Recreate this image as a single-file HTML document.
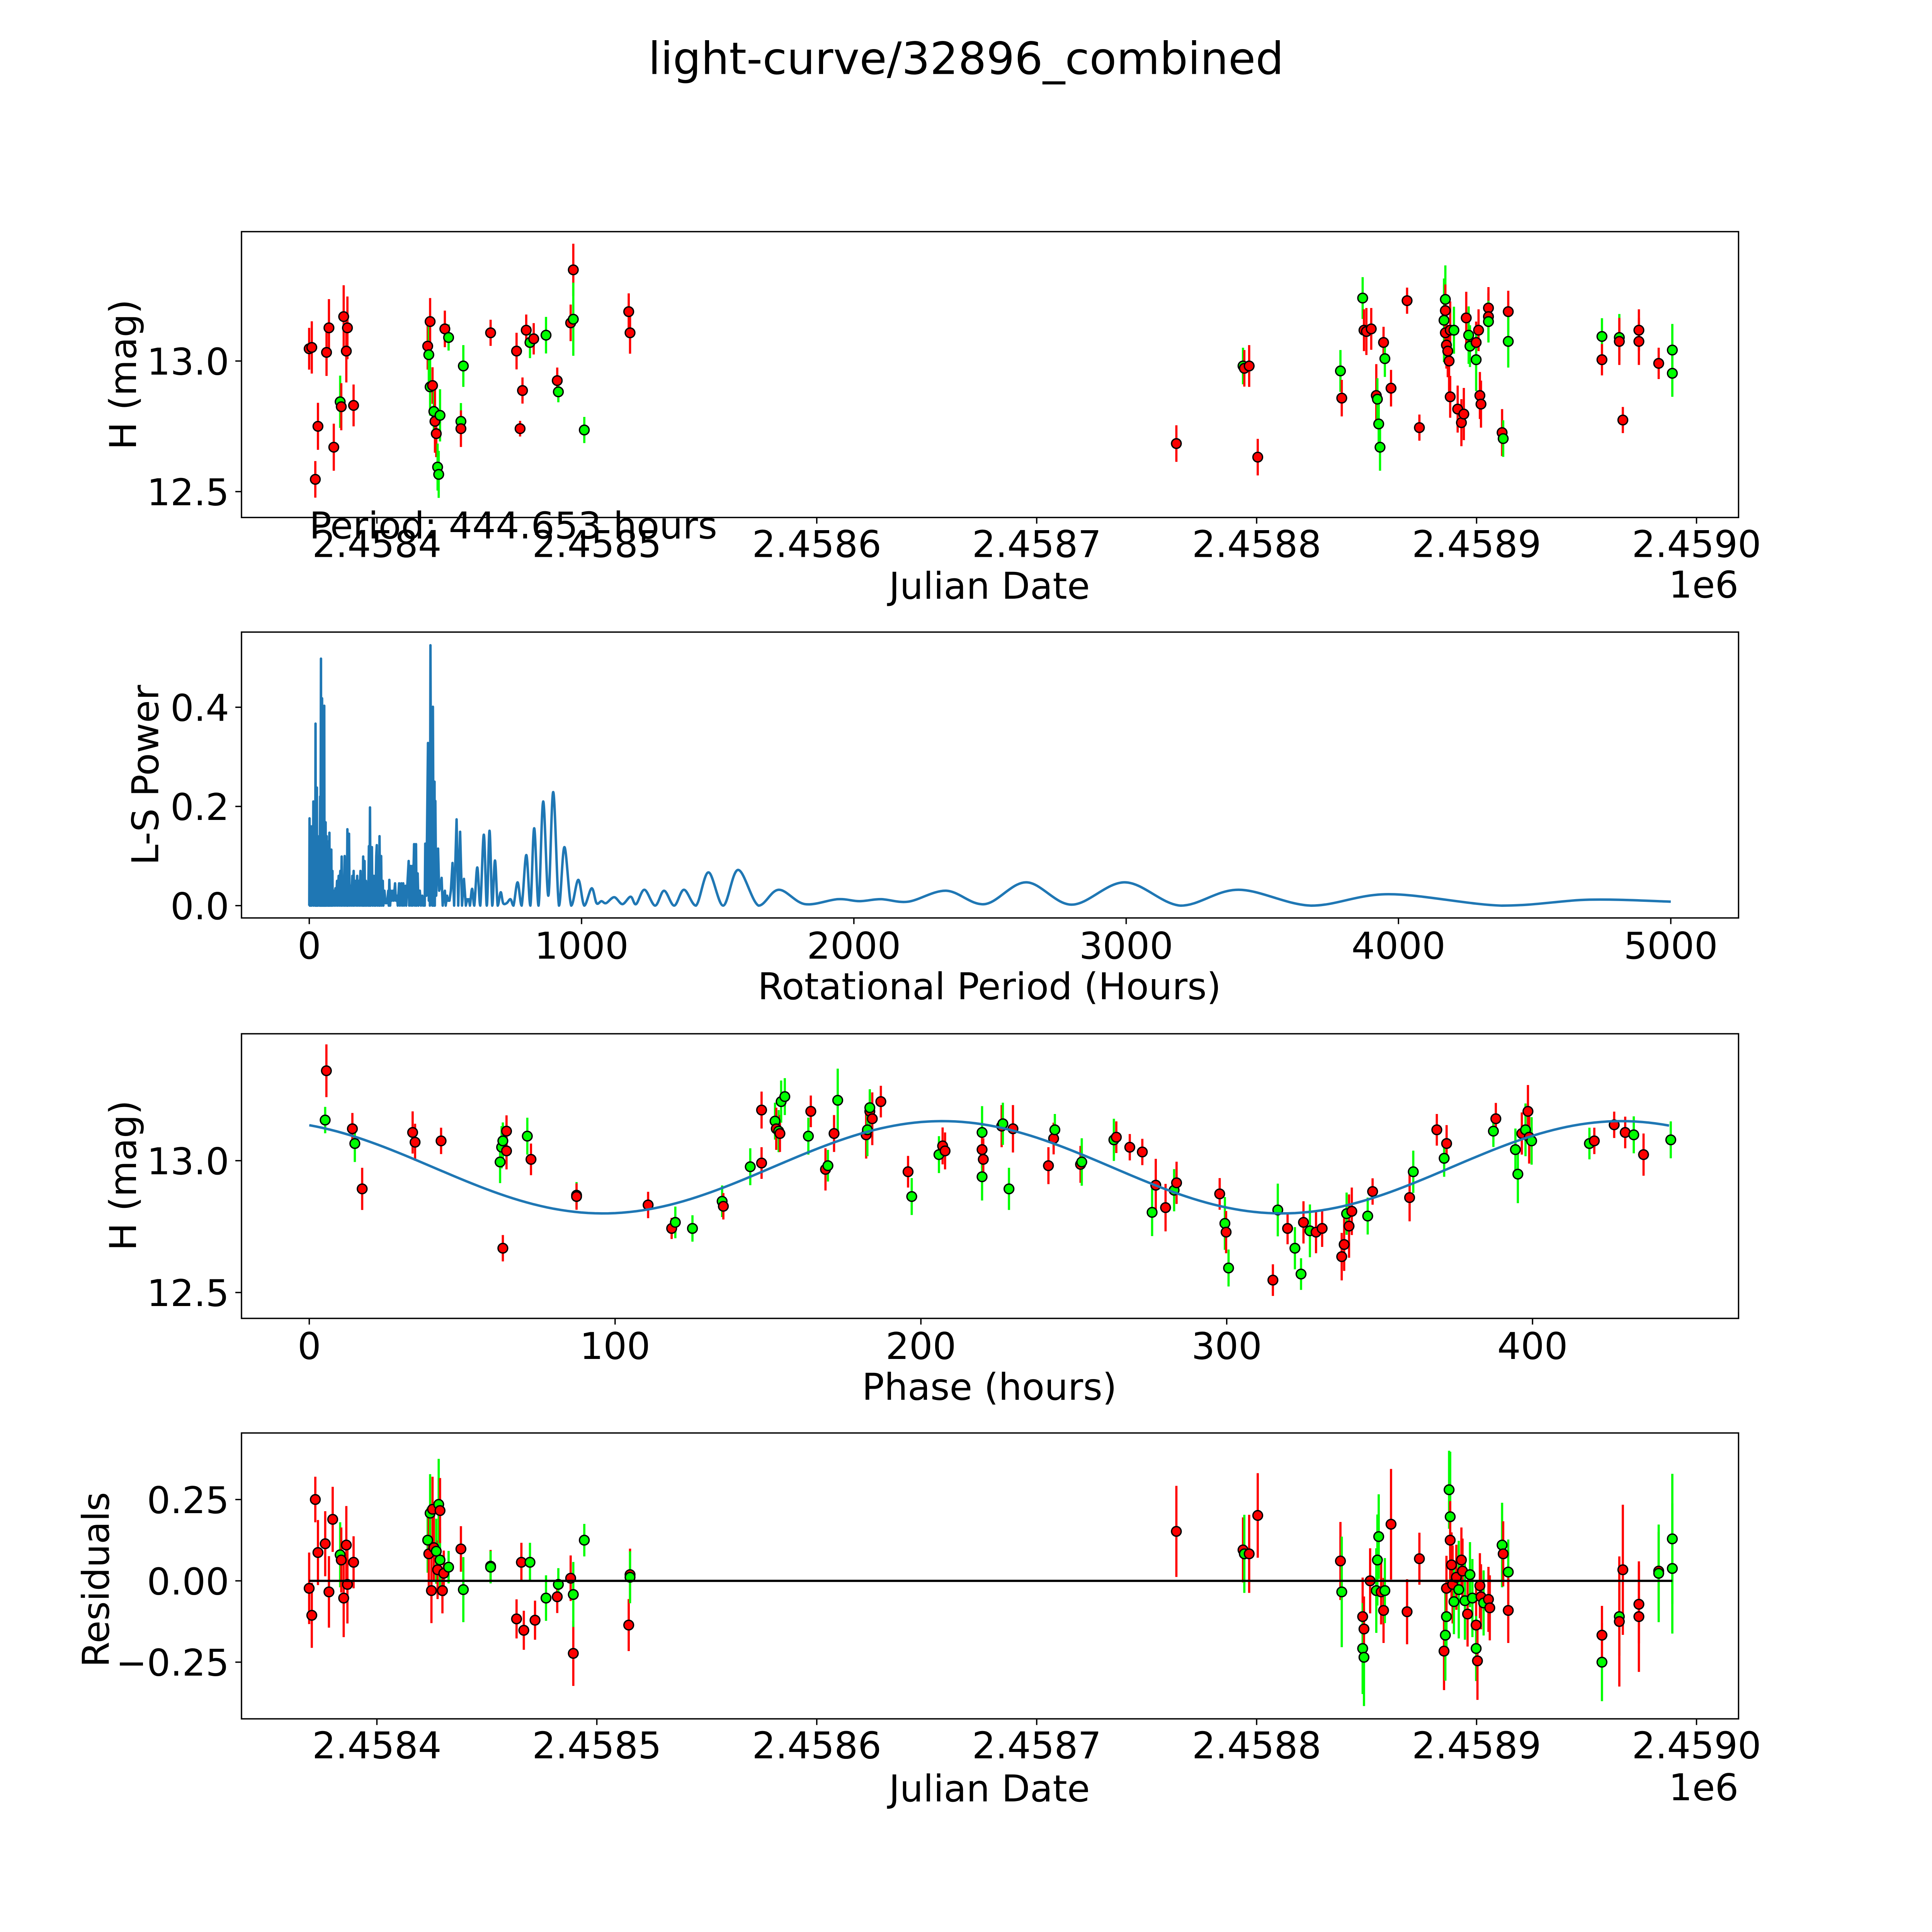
<!DOCTYPE html>
<html><head><meta charset="utf-8"><title>light-curve/32896_combined</title>
<style>
html,body{margin:0;padding:0;background:#fff;overflow:hidden;width:100vw;height:100vh;}
svg{display:block;position:fixed;left:0;top:0;width:100vw;height:100vh;font-family:"DejaVu Sans","Liberation Sans",sans-serif;}
</style></head>
<body>
<svg id="fig" viewBox="0 0 1568 1568" preserveAspectRatio="none" xmlns="http://www.w3.org/2000/svg">
<rect x="0" y="0" width="1568" height="1568" fill="#fff"/>
<text x="784" y="60" font-size="36" text-anchor="middle">light-curve/32896_combined</text>
<g id="p1"></g>
<g id="p2"></g>
<g id="p3"></g>
<g id="p4"></g>
<text x="251" y="437" font-size="30">Period: 444.653 hours</text>
</svg>
<script>
// ---------- data ----------
// epoch for day offsets (JD)
const jdEpoch = 2458388.3;
const lcDays = [-19.1,-17.9,-15.1,-16.3,-11.2,-10.1,-7.9,-5.0,-4.5,-3.4,-2.2,-1.7,1.1,34.8,35.3,35.9,35.9,37.0,37.6,38.1,38.7,39.3,39.8,40.4,42.6,44.3,49.9,49.9,51.0,63.4,75.2,76.8,77.9,79.6,81.3,83.0,88.6,93.7,94.2,99.8,101.0,101.0,106.0,126.2,126.8,
375.2,405.5,406.1,408.3,412.2,449.8,450.4,459.9,460.5,461.6,463.8,466.1,466.6,467.2,467.8,469.4,470.0,472.8,480.1,485.7,496.9,497.5,497.5,497.5,498.0,498.6,499.2,499.7,499.7,501.4,503.1,504.8,505.9,507.0,508.1,508.7,511.5,511.5,512.6,513.2,513.7,517.1,517.1,517.1,523.3,523.8,526.1,526.1,568.7,568.7,576.6,576.6,578.2,585.5,585.5,594.5,600.7,600.7];
const lcMags = [13.047,13.052,12.750,12.547,13.033,13.127,12.670,12.844,12.825,13.170,13.038,13.127,12.830,13.057,13.024,13.151,12.901,12.906,12.807,12.769,12.722,12.594,12.566,12.792,13.123,13.090,12.769,12.741,12.981,13.108,13.038,12.741,12.887,13.118,13.071,13.085,13.099,12.925,12.882,13.146,13.349,13.160,12.736,13.189,13.108,
12.684,12.981,12.972,12.981,12.632,12.962,12.858,13.241,13.118,13.113,13.123,12.868,12.854,12.759,12.670,13.071,13.009,12.896,13.231,12.745,13.156,13.236,13.193,13.108,13.061,13.038,13.000,12.863,13.118,13.118,12.816,12.764,12.797,13.165,13.099,13.057,13.071,13.005,13.118,12.868,12.835,13.203,13.170,13.151,12.726,12.703,13.189,13.075,13.094,13.005,13.090,13.075,12.774,13.118,13.075,12.991,12.953,13.042];
const lcErrs = [0.08,0.10,0.09,0.07,0.09,0.11,0.09,0.10,0.09,0.12,0.12,0.12,0.08,0.09,0.12,0.09,0.11,0.07,0.10,0.12,0.09,0.09,0.09,0.10,0.07,0.05,0.07,0.07,0.08,0.05,0.07,0.03,0.05,0.06,0.06,0.06,0.07,0.05,0.04,0.07,0.10,0.14,0.05,0.07,0.08,
0.07,0.07,0.07,0.08,0.07,0.08,0.07,0.08,0.08,0.09,0.08,0.12,0.08,0.09,0.09,0.06,0.07,0.07,0.05,0.05,0.16,0.13,0.10,0.08,0.09,0.10,0.12,0.08,0.11,0.09,0.09,0.09,0.10,0.10,0.11,0.08,0.08,0.12,0.08,0.09,0.09,0.08,0.09,0.08,0.09,0.07,0.08,0.10,0.07,0.06,0.09,0.09,0.05,0.08,0.09,0.06,0.09,0.10];
const lcColors = "rrrrrrrgrrrrr" + "rgrgrgrrgggrggrg" + "rrrrrgrgrgrrggrr" + "rgrrr" + "grgrrrrgggrgrrr" + "ggrrrrrrrgrrrrggrgrrrrrgrgrg" + "grgrrrrrgg";
// periodogram
const lsPeriods = [0,1,2,3,4,5,6,8,9,11,12,14,15,16,18,19,21,22,23,24,26,27,28,29,31,32,34,35,37,38,40,41,43,44,45,46,47,48,50,51,53,54,55,56,58,59,60,61,64,65,68,69,71,72,74,75,78,79,81,82,85,86,90,92,96,98,102,104,108,110,114,116,119,121,125,127,130,132,136,138,140,142,146,148,152,154,158,160,163,165,170,172,176,178,182,184,188,190,194,196,198,200,203,205,208,210,214,216,219,221,223,225,228,230,232,236,238,241,243,246,248,250,254,256,258,260,264,266,270,272,276,280,286,290,292,294,297,300,303,307,310,315,318,322,325,330,333,338,341,345,348,353,356,365,367,372,374,378,380,385,388,392,394,398,401,406,410,415,418,422,424,426,430,436,439,442,443,445,448,451,452,454,457,460,461,463,466,470,473,477,482,486,490,494,498,501,506,510,515,520,526,532,536,541,547,554,561,568,575,580,583,586,590,598,606,617,628,641,652,662,672,682,692,703,712,725,739,750,765,780,797,812,826,842,859,878,896,917,937,962,988,1010,1037,1055,1073,1090,1120,1150,1180,1200,1231,1270,1303,1340,1376,1420,1466,1520,1575,1650,1724,1820,1941,2020,2100,2200,2339,2480,2633,2800,2995,3200,3412,3680,3964,4380,4701,5000];
const lsPowers = [0,0.176,0,0.12,0,0.16,0.02,0.1,0,0.16,0.02,0.08,0.21,0,0.12,0.02,0.15,0,0.367,0,0.1,0,0.238,0,0.14,0,0.1,0.02,0.14,0,0.22,0,0.498,0,0.3,0,0.418,0,0.2,0,0.12,0,0.403,0,0.12,0,0.168,0,0.14,0,0.1,0,0.13,0,0.147,0,0.06,0,0.113,0,0.07,0,0.03,0,0.035,0,0.05,0,0.06,0,0.07,0,0.099,0,0.05,0,0.1,0,0.04,0,0.154,0,0.145,0,0.04,0,0.06,0,0.07,0,0.05,0,0.06,0,0.05,0,0.07,0,0.04,0,0.099,0,0.09,0,0.05,0,0.04,0,0.12,0,0.198,0,0.09,0.118,0,0.06,0,0.06,0,0.1,0.122,0,0.07,0,0.14,0,0.1,0,0.05,0,0.03,0.005,0.005,0.03,0,0.052,0,0.03,0.01,0.03,0.01,0.045,0.01,0.02,0,0.045,0,0.045,0,0.045,0,0.04,0,0.09,0,0.08,0,0.08,0,0.124,0,0.124,0,0.065,0,0.03,0,0.02,0,0.015,0,0.125,0.02,0.328,0.01,0.2,0,0.525,0.05,0.1,0,0.401,0,0.25,0,0.211,0.02,0.08,0.115,0.03,0.04,0.056,0,0.02,0.03,0,0.02,0.01,0.01,0.03,0.086,0,0.08,0.174,0,0.149,0,0.054,0,0.013,0.01,0.013,0,0.034,0,0.077,0,0.143,0,0.151,0,0.091,0,0.027,0.005,0.005,0.013,0,0.047,0,0.102,0,0.156,0,0.21,0.02,0.229,0,0.118,0,0.052,0,0.035,0.005,0.009,0.005,0.017,0.003,0.018,0.003,0.032,0,0.03,0,0.032,0,0.067,0,0.072,0,0.032,0.003,0.013,0.009,0.013,0.008,0.03,0.003,0.047,0.002,0.047,0,0.032,0,0.023,0,0.012,0.008];
// phase-folded
const phHours = [5.2,5.6,14.1,14.9,17.3,33.8,34.6,43.1,62.4,62.9,63.3,63.3,64.5,64.5,71.3,72.5,87.4,87.4,110.8,118.5,119.7,125.3,135.0,135.4,144.2,147.9,147.9,152.3,152.7,153.5,153.9,154.3,155.5,163.2,164.0,168.8,169.6,171.6,172.8,182.1,182.5,183.3,183.3,184.1,186.9,195.8,197.0,205.9,207.1,207.9,220.0,220.0,220.0,220.4,226.4,226.8,228.8,230.1,241.7,243.4,243.8,252.2,252.6,263.1,263.9,268.3,272.4,275.6,276.8,280.0,282.8,283.6,297.7,299.4,299.8,300.6,315.1,316.7,319.9,322.3,324.3,325.1,327.2,329.2,331.2,337.6,338.4,339.2,340.0,340.9,346.1,347.7,359.8,361.0,368.7,371.1,371.9,387.2,388.0,394.4,395.2,396.5,397.7,398.5,398.9,399.7,418.6,420.2,426.7,430.3,433.1,436.3,445.2];
const phMags = [13.154,13.341,13.121,13.065,12.893,13.107,13.070,13.075,12.995,13.051,13.075,12.668,13.037,13.112,13.093,13.005,12.869,12.864,12.832,12.743,12.766,12.743,12.846,12.827,12.977,12.991,13.192,13.150,13.121,13.112,13.103,13.224,13.243,13.093,13.187,12.967,12.981,13.103,13.229,13.098,13.117,13.187,13.201,13.159,13.224,12.958,12.864,13.023,13.056,13.037,13.107,13.042,12.939,13.005,13.131,13.140,12.893,13.121,12.981,13.084,13.117,12.986,12.995,13.079,13.089,13.051,13.033,12.804,12.907,12.822,12.888,12.916,12.874,12.762,12.729,12.593,12.547,12.813,12.743,12.668,12.570,12.766,12.734,12.729,12.743,12.636,12.682,12.799,12.752,12.808,12.790,12.883,12.860,12.958,13.117,13.009,13.065,13.112,13.159,13.042,12.949,13.103,13.117,13.187,13.089,13.075,13.065,13.075,13.136,13.107,13.098,13.023,13.079];
const phErrs = [0.05,0.1,0.06,0.07,0.08,0.08,0.07,0.05,0.08,0.08,0.07,0.05,0.07,0.06,0.07,0.06,0.05,0.05,0.05,0.04,0.06,0.05,0.06,0.05,0.07,0.06,0.07,0.07,0.08,0.08,0.07,0.08,0.07,0.07,0.06,0.08,0.06,0.07,0.12,0.09,0.1,0.08,0.07,0.1,0.06,0.06,0.07,0.07,0.07,0.07,0.1,0.07,0.09,0.08,0.08,0.08,0.08,0.09,0.07,0.06,0.06,0.07,0.09,0.08,0.06,0.05,0.05,0.09,0.1,0.09,0.08,0.08,0.06,0.1,0.08,0.07,0.06,0.1,0.06,0.08,0.06,0.08,0.1,0.08,0.07,0.09,0.1,0.08,0.12,0.09,0.07,0.05,0.09,0.08,0.06,0.07,0.07,0.06,0.06,0.08,0.11,0.08,0.1,0.1,0.1,0.09,0.06,0.05,0.05,0.06,0.07,0.08,0.07];
const phColors = "grrgrrrrgg" + "grrrgrgrrr" + "gggrgrrgrg" + "rgggrrgrgr" + "grgrrrggrr" + "grgrrggrrr" + "grggrrrgrr" + "grrgrgrgrg" + "grgrrrrgrr" + "grrgrgrgrg" + "grgrrggrrr" + "grg";
// fit: mean, amplitude, cycle length (h), phase of maximum (h)
const fitParams = [12.975, 0.175, 222, 207];
const fitRange = [0, 444.65];
// residuals
const resDays = [-19.1,-17.9,-16.3,-15.1,-11.8,-10.1,-8.4,-5.0,-4.5,-3.4,-2.2,-1.7,1.1,34.8,35.3,35.9,36.5,37.0,37.6,38.7,39.3,39.8,40.4,40.4,41.5,42.1,44.3,49.9,51.0,63.4,63.4,75.2,77.4,78.5,81.3,83.6,88.6,93.7,94.2,99.8,101.0,101.0,106.0,126.2,126.8,126.8,
375.2,405.5,406.1,408.3,412.2,449.8,450.4,459.9,459.9,460.5,460.5,463.3,466.1,466.6,467.2,468.3,469.4,470.0,472.8,480.1,485.7,496.9,497.5,498.0,498.0,499.2,499.7,499.7,500.3,500.8,501.4,502.5,503.6,504.8,505.3,506.4,507.6,508.7,509.8,511.5,511.5,512.1,513.2,513.7,514.9,517.1,517.7,523.3,523.8,526.1,526.1,568.7,568.7,576.6,576.6,578.2,585.5,585.5,594.5,594.5,600.7,600.7];
const resVals = [-0.023,-0.106,0.250,0.087,0.114,-0.034,0.189,0.080,0.064,-0.053,0.110,-0.011,0.057,0.125,0.083,0.208,-0.030,0.220,0.102,0.091,0.034,0.235,0.064,0.216,-0.030,0.023,0.042,0.098,-0.027,0.045,0.042,-0.117,0.057,-0.152,0.057,-0.121,-0.053,-0.049,-0.011,0.008,-0.223,-0.042,0.125,-0.136,0.019,0.011,
0.152,0.095,0.083,0.083,0.201,0.061,-0.034,-0.110,-0.208,-0.235,-0.148,0.000,-0.030,0.064,0.136,-0.034,-0.091,-0.030,0.174,-0.095,0.068,-0.216,-0.167,-0.110,-0.023,0.280,0.197,0.125,0.049,-0.011,-0.064,0.011,-0.027,0.064,0.030,-0.061,-0.102,0.019,-0.053,-0.136,-0.208,-0.246,-0.015,-0.049,-0.068,-0.057,-0.083,0.110,0.083,0.027,-0.091,-0.250,-0.167,-0.110,-0.125,0.034,-0.072,-0.110,0.030,0.023,0.129,0.038];
const resErrs = [0.11,0.1,0.07,0.1,0.1,0.11,0.1,0.1,0.1,0.12,0.12,0.12,0.08,0.1,0.11,0.12,0.1,0.1,0.1,0.1,0.09,0.14,0.1,0.1,0.07,0.07,0.05,0.07,0.1,0.05,0.05,0.06,0.06,0.06,0.06,0.06,0.07,0.05,0.05,0.07,0.1,0.1,0.05,0.08,0.08,0.08,
0.14,0.1,0.12,0.12,0.13,0.12,0.17,0.12,0.14,0.15,0.1,0.1,0.13,0.14,0.13,0.1,0.1,0.1,0.17,0.1,0.08,0.12,0.14,0.12,0.1,0.12,0.2,0.12,0.1,0.12,0.1,0.1,0.15,0.1,0.1,0.12,0.1,0.1,0.12,0.12,0.1,0.12,0.1,0.1,0.1,0.1,0.1,0.13,0.1,0.1,0.1,0.12,0.09,0.12,0.2,0.2,0.12,0.17,0.12,0.15,0.2,0.2];
const resColors = "rrrrrrrgrrrrr" + "grgrrrgrggrrrgrg" + "rgrrrgrgrgrrggrrg" + "rrgrr" + "rgrggrrgggrrgrrr" + "rggrggrrrgrgrrgrggrgrrrgrrgrgr" + "grgrrrrrggg";

const xTicksJD = [2.4584,2.4585,2.4586,2.4587,2.4588,2.4589,2.4590];
const yTicksMag = [13.0,12.5];
const xTicksLS = [0,1000,2000,3000,4000,5000];
const yTicksLS = [0.0,0.2,0.4];
const xTicksPh = [0,100,200,300,400];
const yTicksRes = [0.25,0.0,-0.25];
const yTickResLabels = ["0.25","0.00","\u22120.25"];

// ---------- drawing ----------
const NS = "http://www.w3.org/2000/svg";
function mk(parent, tag, attrs){ const e=document.createElementNS(NS,tag); for(const k in attrs) e.setAttribute(k,attrs[k]); parent.appendChild(e); return e; }
const L=196, R=1411;
const xJD = d => 285 + d*1.785;
const xJDtick = v => xJD(v*1e6 - jdEpoch);
const y1 = m => 293 - (m-13)*212;
const xLS = p => 251 + p*0.221;
const y2 = p => 735 - p*402.5;
const xPh = h => 251 + h*2.482;
const y3 = m => 942 - (m-13)*214;
const y4 = r => 1283 - r*264;
const TICKFS = 30;

function frame(g, top, bot, name){
  const r = mk(g,'rect',{x:L,y:top,width:R-L,height:bot-top,fill:'none',stroke:'#000','stroke-width':1.1});
  
  
}
function xTick(g, x, bot, label, base){
  const t=mk(g,'line',{x1:x,x2:x,y1:bot,y2:bot+5,stroke:'#000','stroke-width':1.1});
  
  
  const tx=mk(g,'text',{x:x,y:base,'font-size':TICKFS,'text-anchor':'middle'});
  tx.textContent=label;
  
  
}
function yTick(g, y, label){
  const t=mk(g,'line',{x1:L-5,x2:L,y1:y,y2:y,stroke:'#000','stroke-width':1.1});
  
  
  const tx=mk(g,'text',{x:L-10,y:y+11,'font-size':TICKFS,'text-anchor':'end'});
  tx.textContent=label;
  
  
}
function label(g, x, y, txt, name, rot){
  const a={x:x,y:y,'font-size':30,'text-anchor':'middle'};
  if(rot){a.transform='rotate(-90 '+x+' '+y+')'; a['dominant-baseline']='central';}
  const t=mk(g,'text',a); t.textContent=txt;
  
  
}
function points(g, xs, ys, es, cs, fx, fy){
  for(let i=0;i<xs.length;i++){
    const c = cs[i]==='g' ? '#00ff00' : '#ff0000';
    const x=fx(xs[i]), yA=fy(ys[i]-es[i]), yB=fy(ys[i]+es[i]);
    const l=mk(g,'line',{x1:x,x2:x,y1:yA,y2:yB,stroke:c,'stroke-width':1.8});
    
    
  }
  for(let i=0;i<xs.length;i++){
    const c = cs[i]==='g' ? '#00ff00' : '#ff0000';
    const p=mk(g,'circle',{cx:fx(xs[i]),cy:fy(ys[i]),r:3.9,fill:c,stroke:'#000','stroke-width':1.1});
    
    
  }
}

// Panel 1
(function(){
  const g=document.getElementById('p1');
  points(g, lcDays, lcMags, lcErrs, lcColors, xJD, y1);
  frame(g,188,420,'light-curve');
  xTicksJD.forEach(v=>xTick(g,xJDtick(v),420,v.toFixed(4),452));
  yTicksMag.forEach(v=>yTick(g,y1(v),v.toFixed(1)));
  label(g,803,486,'Julian Date','x-axis-title');
  const e=mk(g,'text',{x:R,y:485,'font-size':30,'text-anchor':'end'}); e.textContent='1e6';
  
  
  label(g,100,304,'H (mag)','y-axis-title',true);
})();

// Panel 2
(function(){
  const g=document.getElementById('p2');
  const pts=lsPeriods.map((p,i)=>[xLS(p),y2(lsPowers[i])]);
  function p2f(p){return p[0].toFixed(2)+' '+p[1].toFixed(2);}
  let d='M'+p2f(pts[0]);
  for(let i=1;i<pts.length;i++){
    if(lsPeriods[i]>590){
      const p0=pts[i-2]||pts[i-1], p1=pts[i-1], p2=pts[i], p3=pts[i+1]||pts[i];
      const c1x=p1[0]+(p2[0]-p0[0])/6, c1y=Math.min(735,p1[1]+(p2[1]-p0[1])/6);
      const c2x=p2[0]-(p3[0]-p1[0])/6, c2y=Math.min(735,p2[1]-(p3[1]-p1[1])/6);
      d+=' C'+c1x.toFixed(2)+' '+c1y.toFixed(2)+' '+c2x.toFixed(2)+' '+c2y.toFixed(2)+' '+p2f(p2);
    } else d+=' L'+p2f(pts[i]);
  }
  const path=mk(g,'path',{d:d,fill:'none',stroke:'#1f77b4','stroke-width':2,'stroke-linejoin':'round'});
  
  
  frame(g,513,745,'periodogram');
  xTicksLS.forEach(v=>xTick(g,xLS(v),745,String(v),778));
  yTicksLS.forEach(v=>yTick(g,y2(v),v.toFixed(1)));
  label(g,803,811,'Rotational Period (Hours)','x-axis-title');
  label(g,118,629,'L-S Power','y-axis-title',true);
})();

// Panel 3
(function(){
  const g=document.getElementById('p3');
  points(g, phHours, phMags, phErrs, phColors, xPh, y3);
  let d='';
  for(let k=0;k<=200;k++){
    const h=fitRange[0]+(fitRange[1]-fitRange[0])*k/200;
    const m=fitParams[0]+fitParams[1]*Math.cos(2*Math.PI*(h-fitParams[3])/fitParams[2]);
    d+=(k?' L':'M')+xPh(h).toFixed(2)+' '+y3(m).toFixed(2);
  }
  const p=mk(g,'path',{d:d,fill:'none',stroke:'#1f77b4','stroke-width':2});
  
  
  frame(g,839,1070,'phase-fold');
  xTicksPh.forEach(v=>xTick(g,xPh(v),1070,String(v),1103));
  yTicksMag.forEach(v=>yTick(g,y3(v),v.toFixed(1)));
  label(g,803,1136,'Phase (hours)','x-axis-title');
  label(g,100,954,'H (mag)','y-axis-title',true);
})();

// Panel 4
(function(){
  const g=document.getElementById('p4');
  points(g, resDays, resVals, resErrs, resColors, xJD, y4);
  const z=mk(g,'line',{x1:xJD(lcDays[0]),x2:xJD(lcDays[lcDays.length-1]),y1:y4(0),y2:y4(0),stroke:'#000','stroke-width':1.8});
  
  
  frame(g,1163,1395,'residuals');
  xTicksJD.forEach(v=>xTick(g,xJDtick(v),1395,v.toFixed(4),1427));
  yTicksRes.forEach((v,i)=>yTick(g,y4(v),yTickResLabels[i]));
  label(g,803,1462,'Julian Date','x-axis-title');
  const e=mk(g,'text',{x:R,y:1461,'font-size':30,'text-anchor':'end'}); e.textContent='1e6';
  
  
  label(g,78,1282,'Residuals','y-axis-title',true);
})();
</script>
</body></html>
